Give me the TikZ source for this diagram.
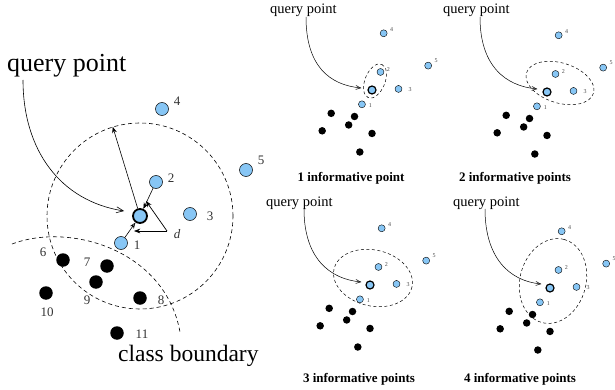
\documentclass[tikz,border=0pt]{standalone}
\usepackage{fontspec}
\setmainfont{Liberation Serif}
\usepackage{xcolor}
\definecolor{mcielo}{HTML}{87C6F5}
\usetikzlibrary{arrows.meta,shapes.geometric}

\begin{document}
\begin{tikzpicture}[x=1pt,y=-1pt,>={Stealth[length=2.2mm]},
posdot/.style={circle,draw=black,fill=mcielo,line width=0.5pt,minimum size=13pt,inner sep=0pt},
negdot/.style={circle,fill=black,minimum size=13.5pt,inner sep=0pt},
qrydot/.style={posdot,line width=1.8pt,minimum size=14pt},
spos/.style={posdot,line width=0.4pt,minimum size=7pt},
sneg/.style={negdot,minimum size=7.5pt},
sqry/.style={qrydot,line width=1.2pt,minimum size=8pt},
num/.style={font=\fontsize{13}{13}\selectfont,text=black!80,inner sep=0pt},
snum/.style={font=\fontsize{6}{6}\selectfont,text=black!70,inner sep=0pt},
qbig/.style={font=\fontsize{26}{26}\selectfont,inner sep=0pt,anchor=base west},
qsmall/.style={font=\fontsize{14.5}{14.5}\selectfont,inner sep=0pt,anchor=base west},
captext/.style={font=\fontsize{13}{13}\selectfont\bfseries,inner sep=0pt,anchor=base},
bound/.style={dash pattern=on 4pt off 3pt,line width=0.6pt},
sbound/.style={dash pattern=on 3pt off 2.5pt,line width=0.5pt},
qarrow/.style={-{Straight Barb[length=7pt,width=6pt]},line width=0.6pt},
sarrow/.style={-{Straight Barb[length=5pt,width=4pt]},line width=0.5pt}]

\clip (0,0) rectangle (615,390);

% main panel
\node[circle,draw,bound,minimum size=186pt,inner sep=0pt] (rad) at (140,216) {};
\draw[bound] (12,244) .. controls (70,222) and (165,250) .. (180,332);

\node[qrydot] (q) at (140,216) {};
\node[posdot] (p1) at (121,243) {};
\node[posdot] (p2) at (156,182) {};
\node[posdot] (p3) at (190,214) {};
\node[posdot] (p4) at (162,109) {};
\node[posdot] (p5) at (246,170) {};
\node[negdot] (b6) at (63,260) {};
\node[negdot] (b7) at (107,266) {};
\node[negdot] (b9) at (96,282) {};
\node[negdot] (b10) at (46,293) {};
\node[negdot] (b8) at (140,298) {};
\node[negdot] (b11) at (117,333) {};

\node[num] (n1) at (137,245) {1};
\node[num] (n2) at (171,178) {2};
\node[num] (n3) at (210,216) {3};
\node[num] (n4) at (177,101) {4};
\node[num] (n5) at (261,160) {5};
\node[num] (n6) at (43,252) {6};
\node[num] (n7) at (87,262) {7};
\node[num] (n8) at (161,300) {8};
\node[num] (n9) at (87,300) {9};
\node[num] (n10) at (47,312) {10};
\node[num] (n11) at (142,334) {11};

\draw[->,line width=0.6pt] (q) -- (rad.107);
\draw[->,line width=0.6pt] (p2) -- (q);
\draw[-{Stealth[open,length=2.2mm]},line width=0.6pt] (p1) -- (q);

\coordinate (dv) at (167,231);
\coordinate (dh) at (134,231);
\coordinate (dd) at (146,201);
\draw[->,line width=0.7pt] (dv) -- (dh);
\draw[->,line width=0.7pt] (dv) -- (dd);
\node[num,font=\fontsize{13}{13}\selectfont\itshape] (dl) at (177,234) {d};

\node[qbig] (qmain) at (7,72) {query point};
\node[qbig,font=\fontsize{23.5}{23.5}\selectfont] (cmain) at (118,361) {class boundary};
\draw[qarrow] ([xshift=16pt,yshift=-8pt]qmain.base west) .. controls +(0,70) and +(-64,-10) .. ([xshift=-8pt,yshift=5pt]q.west);

% panel 1
\draw[sbound] (375,81) ellipse [x radius=18, y radius=10, rotate=68];
\begin{scope}[shift={(372,90)},scale=0.53]
\node[sqry] (aq) at (0,0) {};
\node[spos] (a1) at (-19,27) {}; \node[spos] (a2) at (16,-34) {}; \node[spos] (a3) at (50,-2) {};
\node[spos] (a4) at (22,-107) {}; \node[spos] (a5) at (106,-46) {};
\node[sneg] (a6) at (-77,44) {}; \node[sneg] (a7) at (-33,50) {}; \node[sneg] (a8) at (0,82) {};
\node[sneg] (a9) at (-44,66) {}; \node[sneg] (a10) at (-94,77) {}; \node[sneg] (a11) at (-23,117) {};
\node[snum] (al1) at (-3,29) {1}; \node[snum] (al2) at (31,-38) {2}; \node[snum] (al3) at (72,0) {3};
\node[snum] (al4) at (37,-115) {4}; \node[snum] (al5) at (121,-56) {5};
\end{scope}
\node[qsmall] (ta) at (270,14) {query point};
\draw[sarrow] ([xshift=36pt,yshift=-3pt]ta.base west) .. controls +(0,49) and +(-32,-3) .. ([xshift=-6pt,yshift=2pt]aq.west);
\node[captext] (ca) at (351,182) {1 informative point};

% panel 2
\draw[sbound] (560,83) ellipse [x radius=35, y radius=20, rotate=-17];
\begin{scope}[shift={(547,92)},scale=0.53]
\node[sqry] (bq) at (0,0) {};
\node[spos] (bb1) at (-19,27) {}; \node[spos] (bb2) at (16,-34) {}; \node[spos] (bb3) at (50,-2) {};
\node[spos] (bb4) at (22,-107) {}; \node[spos] (bb5) at (106,-46) {};
\node[sneg] (bb6) at (-77,44) {}; \node[sneg] (bb7) at (-33,50) {}; \node[sneg] (bb8) at (0,82) {};
\node[sneg] (bb9) at (-44,66) {}; \node[sneg] (bb10) at (-94,77) {}; \node[sneg] (bb11) at (-23,117) {};
\node[snum] (bl1) at (-3,29) {1}; \node[snum] (bl2) at (31,-38) {2}; \node[snum] (bl3) at (72,0) {3};
\node[snum] (bl4) at (37,-115) {4}; \node[snum] (bl5) at (121,-56) {5};
\end{scope}
\node[qsmall] (tb) at (443,14) {query point};
\draw[sarrow] ([xshift=37pt,yshift=-3pt]tb.base west) .. controls +(0,49) and +(-32,-3) .. ([xshift=-5pt,yshift=3pt]bq.west);
\node[captext] (cb) at (515,182) {2 informative points};

% panel 3
\draw[sbound] (373,278) ellipse [x radius=40, y radius=28, rotate=-13];
\begin{scope}[shift={(370,285)},scale=0.53]
\node[sqry] (cq) at (0,0) {};
\node[spos] (c1) at (-19,27) {}; \node[spos] (c2) at (16,-34) {}; \node[spos] (c3) at (50,-2) {};
\node[spos] (c4) at (22,-107) {}; \node[spos] (c5) at (106,-46) {};
\node[sneg] (c6) at (-77,44) {}; \node[sneg] (c7) at (-33,50) {}; \node[sneg] (c8) at (0,82) {};
\node[sneg] (c9) at (-44,66) {}; \node[sneg] (c10) at (-94,77) {}; \node[sneg] (c11) at (-23,117) {};
\node[snum] (cl1) at (-3,29) {1}; \node[snum] (cl2) at (31,-38) {2}; \node[snum] (cl3) at (72,0) {3};
\node[snum] (cl4) at (37,-115) {4}; \node[snum] (cl5) at (121,-56) {5};
\end{scope}
\node[qsmall] (tc) at (266,206) {query point};
\draw[sarrow] ([xshift=38pt,yshift=-3pt]tc.base west) .. controls +(0,49) and +(-32,-3) .. ([xshift=-4pt,yshift=3pt]cq.west);
\node[captext] (cc) at (359,382) {3 informative points};

% panel 4
\draw[sbound] (553,281) ellipse [x radius=43, y radius=33, rotate=75];
\begin{scope}[shift={(550,288)},scale=0.53]
\node[sqry] (dq) at (0,0) {};
\node[spos] (d1) at (-19,27) {}; \node[spos] (d2) at (16,-34) {}; \node[spos] (d3) at (50,-2) {};
\node[spos] (d4) at (22,-107) {}; \node[spos] (d5) at (106,-46) {};
\node[sneg] (d6) at (-77,44) {}; \node[sneg] (d7) at (-33,50) {}; \node[sneg] (d8) at (0,82) {};
\node[sneg] (d9) at (-44,66) {}; \node[sneg] (d10) at (-94,77) {}; \node[sneg] (d11) at (-23,117) {};
\node[snum] (dl1) at (-3,29) {1}; \node[snum] (dl2) at (31,-38) {2}; \node[snum] (dl3) at (72,0) {3};
\node[snum] (dl4) at (37,-115) {4}; \node[snum] (dl5) at (121,-56) {5};
\end{scope}
\node[qsmall] (td) at (453,206) {query point};
\draw[sarrow] ([xshift=32pt,yshift=-3pt]td.base west) .. controls +(0,49) and +(-32,-3) .. ([xshift=-4pt,yshift=4pt]dq.west);
\node[captext] (cd) at (520,382) {4 informative points};
\end{tikzpicture}
\end{document}
